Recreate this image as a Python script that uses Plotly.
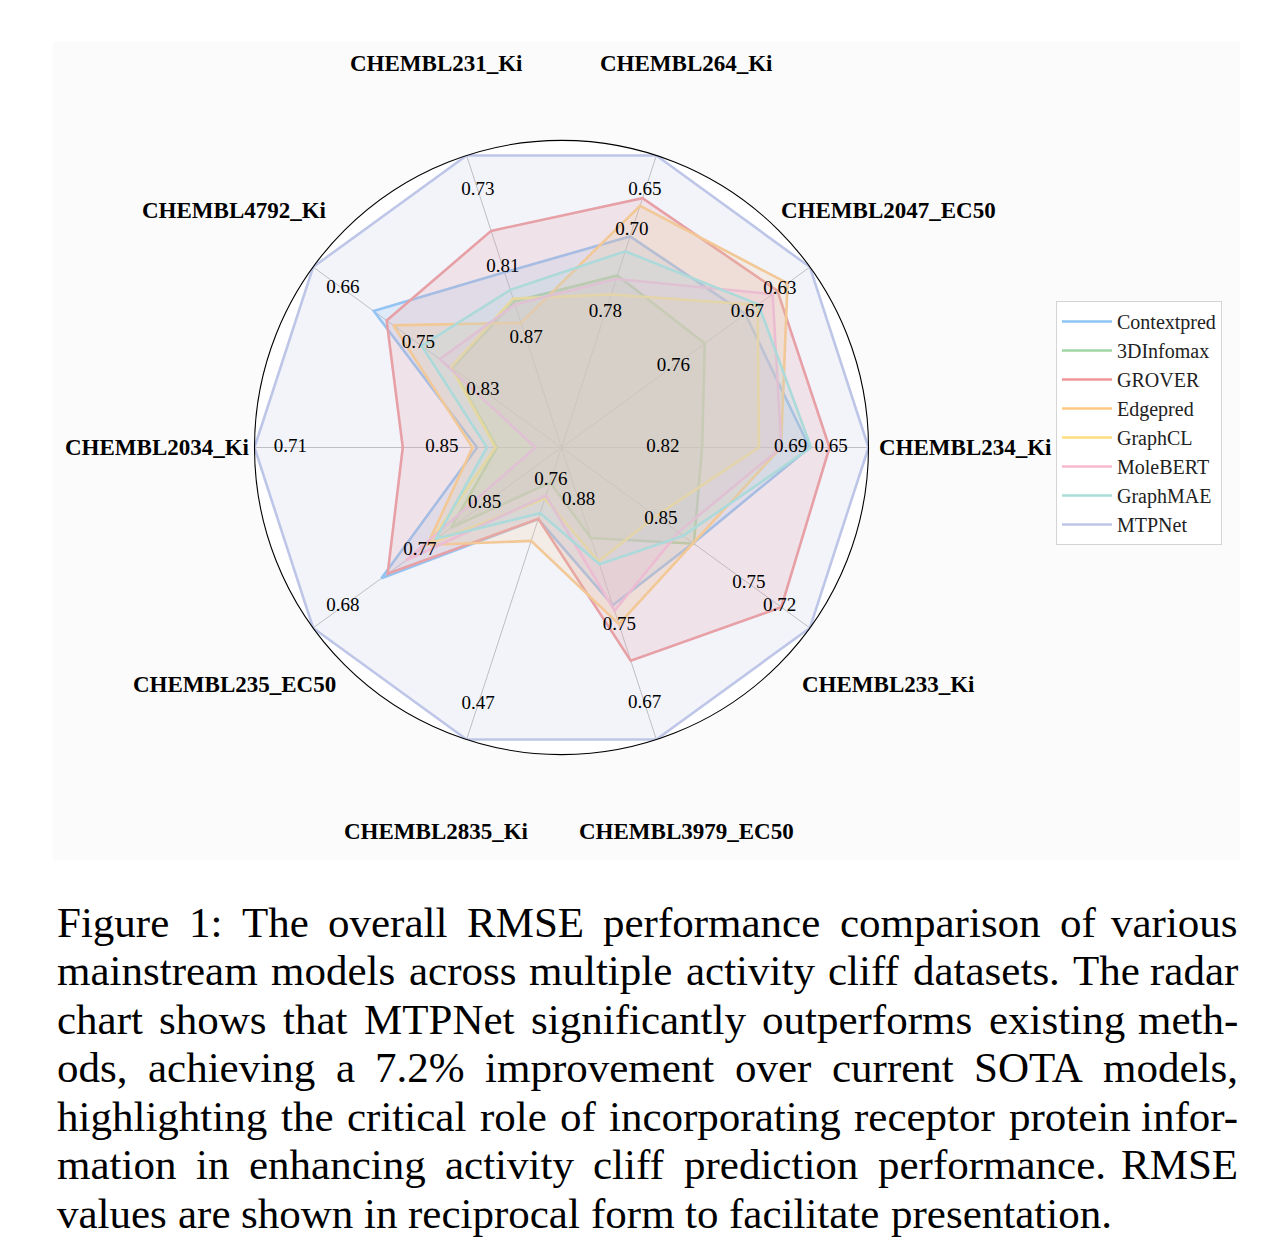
import math
import plotly.graph_objects as go

W, H = 1275, 1257

# ---------------- data ----------------
categories = ["CHEMBL234_Ki", "CHEMBL2047_EC50", "CHEMBL264_Ki", "CHEMBL231_Ki",
              "CHEMBL4792_Ki", "CHEMBL2034_Ki", "CHEMBL235_EC50", "CHEMBL2835_Ki",
              "CHEMBL3979_EC50", "CHEMBL233_Ki"]
angles = [0, 36, 72, 108, 144, 180, 216, 252, 288, 324]

models = ["Contextpred", "3DInfomax", "GROVER", "Edgepred", "GraphCL",
          "MoleBERT", "GraphMAE", "MTPNet"]

# normalised reciprocal-RMSE scores (radius 0..1) per dataset
contextpred = [0.808, 0.74, 0.723, 0.60, 0.756, 0.275, 0.725, 0.245, 0.54, 0.53]
infomax3d   = [0.458, 0.577, 0.589, 0.50, 0.44, 0.21, 0.445, 0.12, 0.31, 0.533]
grover      = [0.873, 0.869, 0.854, 0.742, 0.704, 0.517, 0.70, 0.244, 0.73, 0.885]
edgepred    = [0.715, 0.91, 0.828, 0.427, 0.677, 0.29, 0.54, 0.32, 0.605, 0.53]
graphcl     = [0.643, 0.79, 0.524, 0.51, 0.445, 0.215, 0.535, 0.175, 0.39, 0.38]
molebert    = [0.716, 0.85, 0.577, 0.49, 0.49, 0.085, 0.627, 0.165, 0.559, 0.47]
graphmae    = [0.813, 0.793, 0.672, 0.54, 0.563, 0.243, 0.506, 0.225, 0.40, 0.49]
mtpnet      = [1.0, 1.0, 1.0, 1.0, 1.0, 1.0, 1.0, 1.0, 1.0, 1.0]
series = [contextpred, infomax3d, grover, edgepred, graphcl, molebert, graphmae, mtpnet]

colors = ["#8CC4F5", "#A0D6A3", "#F09696", "#FFC882", "#FFDE7D",
          "#F8B9CD", "#A8DED7", "#BEC6E8"]

# per-axis RMSE tick labels and their radial positions
tick_text = [["0.82", "0.69", "0.65"], ["0.76", "0.67", "0.63"], ["0.78", "0.70", "0.65"],
             ["0.87", "0.81", "0.73"], ["0.83", "0.75", "0.66"], ["0.85", "0.71"],
             ["0.85", "0.77", "0.68"], ["0.76", "0.47"], ["0.88", "0.75", "0.67"],
             ["0.85", "0.75", "0.72"]]
tick_r = [[0.33, 0.746, 0.878], [0.45, 0.748, 0.879], [0.463, 0.743, 0.88],
          [0.373, 0.618, 0.881], [0.317, 0.576, 0.88], [0.39, 0.883],
          [0.31, 0.57, 0.88], [0.113, 0.88], [0.18, 0.609, 0.877],
          [0.40, 0.754, 0.878]]

caption_lines = [
    "Figure 1:  The overall RMSE performance comparison of various",
    "mainstream models across multiple activity cliff datasets. The radar",
    "chart shows that MTPNet significantly outperforms existing meth-",
    "ods, achieving a 7.2% improvement over current SOTA models,",
    "highlighting the critical role of incorporating receptor protein infor-",
    "mation in enhancing activity cliff prediction performance.  RMSE",
    "values are shown in reciprocal form to facilitate presentation.",
]

# ---------------- helpers ----------------
def rgba(hexc, a):
    h = hexc.lstrip("#")
    r, g, b = int(h[0:2], 16), int(h[2:4], 16), int(h[4:6], 16)
    return f"rgba({r},{g},{b},{a})"

SERIF = "Liberation Serif, Times New Roman, serif"

fig = go.Figure()

for name, vals, col in zip(models, series, colors):
    rr = vals + [vals[0]]
    tt = angles + [angles[0]]
    fig.add_trace(go.Scatterpolar(r=rr, theta=tt, mode="lines", fill="toself",
                                  fillcolor=rgba(col, 0.2), line=dict(width=0, color=col),
                                  showlegend=False, hoverinfo="skip"))
    fig.add_trace(go.Scatterpolar(r=rr, theta=tt, mode="lines", name=name,
                                  legendgroup=name,
                                  line=dict(width=2.6, color=col), fill="none"))

# radial tick labels
tr, tth, ttx = [], [], []
for ang, texts, rs in zip(angles, tick_text, tick_r):
    for t, r in zip(texts, rs):
        tr.append(r); tth.append(ang); ttx.append(t)
fig.add_trace(go.Scatterpolar(r=tr, theta=tth, text=ttx, mode="text",
                              textfont=dict(family=SERIF, size=19, color="black"),
                              textposition="middle center", showlegend=False,
                              hoverinfo="skip", cliponaxis=False))

# polar geometry
cx, cy, R = 561.5, 447.5, 307
fig.update_layout(
    width=W, height=H,
    margin=dict(l=0, r=0, t=0, b=0),
    paper_bgcolor="white",
    showlegend=True,
    polar=dict(
        domain=dict(x=[(cx - R) / W, (cx + R) / W], y=[1 - (cy + R) / H, 1 - (cy - R) / H]),
        bgcolor="white",
        angularaxis=dict(rotation=0, direction="counterclockwise", tickmode="array",
                         tickvals=angles, showticklabels=False, ticks="",
                         gridcolor="#bdbdbd", gridwidth=0.9, showline=True,
                         linecolor="black", linewidth=1.1),
        radialaxis=dict(range=[0, 1], showticklabels=False, ticks="", showgrid=False,
                        showline=False),
    ),
    legend=dict(x=1056 / W, y=1 - 301 / H, xanchor="left", yanchor="top",
                font=dict(family=SERIF, size=20, color="#222"),
                bordercolor="#d4d4d4", borderwidth=1, bgcolor="white",
                itemwidth=50, traceorder="grouped", tracegroupgap=0),
)

fig.add_shape(type="rect", xref="paper", yref="paper", x0=53 / W, x1=1240 / W,
              y0=1 - 860 / H, y1=1 - 42 / H, fillcolor="#fbfbfb", line=dict(width=0),
              layer="below")

# category labels outside the circle (placed along each axis direction)
LAB_R = 1.315
for cat, ang in zip(categories, angles):
    a = math.radians(ang)
    px = cx + LAB_R * R * math.cos(a)
    py = cy - LAB_R * R * math.sin(a)
    fig.add_annotation(x=px / W, y=1 - py / H, xref="paper", yref="paper",
                       text=f"<b>{cat}</b>", showarrow=False, xanchor="center",
                       yanchor="middle", font=dict(family=SERIF, size=23, color="black"))

# ---------------- caption (justified with Times metrics) ----------------
TW = {" ": 250, "%": 833, ",": 250, "-": 333, ".": 250, ":": 278}
for d in "0123456789":
    TW[d] = 500
TW.update(dict(zip("ABCDEFGHIJKLMNOPQRSTUVWXYZ",
                   [722, 667, 667, 722, 611, 556, 722, 722, 333, 389, 722, 611, 889, 722,
                    722, 556, 722, 667, 556, 611, 722, 722, 944, 722, 722, 611])))
TW.update(dict(zip("abcdefghijklmnopqrstuvwxyz",
                   [444, 500, 444, 500, 444, 333, 500, 500, 278, 278, 500, 278, 778, 500,
                    500, 500, 500, 333, 389, 278, 500, 500, 722, 500, 500, 444])))

FS = 43
left, right = 55, 1240
base0, lead = 935, 48.5

def wwidth(s):
    return sum(TW.get(ch, 500) for ch in s) * FS / 1000.0

for i, line in enumerate(caption_lines):
    words = line.split()
    ymid = base0 + i * lead - 0.30 * FS
    yp = 1 - ymid / H
    last = i == len(caption_lines) - 1
    widths = [wwidth(w) for w in words]
    if last:
        gap = TW[" "] * FS / 1000.0
    else:
        gap = (right - left - sum(widths)) / (len(words) - 1)
    x = left
    for j, (w, ww) in enumerate(zip(words, widths)):
        if (not last) and j == len(words) - 1:
            fig.add_annotation(x=right / W, y=yp, xref="paper", yref="paper", text=w,
                               showarrow=False, xanchor="right", yanchor="middle",
                               font=dict(family=SERIF, size=FS, color="black"))
        else:
            fig.add_annotation(x=x / W, y=yp, xref="paper", yref="paper", text=w,
                               showarrow=False, xanchor="left", yanchor="middle",
                               font=dict(family=SERIF, size=FS, color="black"))
        x += ww + gap

fig.write_html("out.html")
